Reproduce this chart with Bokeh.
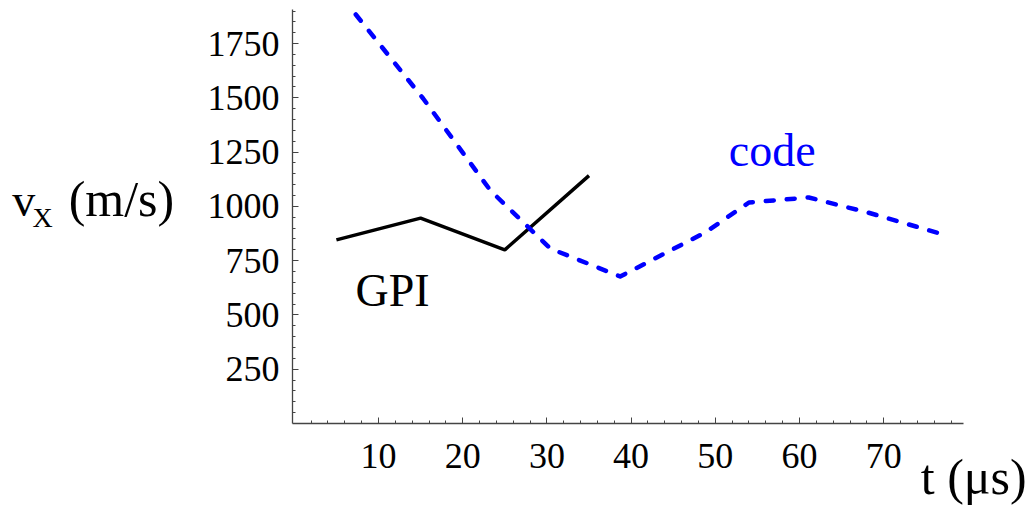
from bokeh.plotting import figure
from bokeh.models import Range1d, FixedTicker, Label, LinearAxis
from bokeh.embed import file_html
from bokeh.resources import INLINE

# GPI measurements
gpi_t = [5, 15, 25, 35]
gpi_v = [846, 946, 800, 1142]

# code simulation
code_t = [7.3, 15.3, 23.3, 30.4, 38.7, 48.8, 54.0, 61.1, 68.1, 77.3]
code_v = [1884, 1497, 1073, 806, 677, 880, 1018, 1041, 972, 868]

x_ticks = [10, 20, 30, 40, 50, 60, 70]
x_minor = list(range(2, 80, 2))
y_ticks = [250, 500, 750, 1000, 1250, 1500, 1750]
y_minor = list(range(50, 1901, 50))

FONT = "Liberation Serif"
XS, YS = 8.42, 0.2171  # px per unit
X0, Y0 = 293.8, 423.0  # pixel positions of t=0, v=0

p = figure(width=1027, height=508, output_backend="svg", toolbar_location=None,
           x_range=Range1d(-X0 / XS, (1027 - X0) / XS),
           y_range=Range1d(-(508 - Y0) / YS, Y0 / YS),
           x_axis_location=None, y_axis_location=None,
           min_border=0)
p.outline_line_color = None
p.xgrid.visible = False
p.ygrid.visible = False
p.background_fill_color = "white"
p.border_fill_color = "white"

xaxis = LinearAxis(fixed_location=0, bounds=(-0.2, 79.5))
yaxis = LinearAxis(fixed_location=-0.2, bounds=(0, 1907))
p.add_layout(xaxis, "below")
p.add_layout(yaxis, "left")

for ax, ticks, minor in ((xaxis, x_ticks, x_minor), (yaxis, y_ticks, y_minor)):
    ax.ticker = FixedTicker(ticks=ticks, minor_ticks=minor)
    ax.axis_line_color = "#444444"
    ax.axis_line_width = 1.3
    ax.major_tick_line_color = "#444444"
    ax.minor_tick_line_color = "#444444"
    ax.major_tick_in = 6
    ax.major_tick_out = 0
    ax.minor_tick_in = 3
    ax.minor_tick_out = 0
    ax.major_label_text_font = FONT
    ax.major_label_text_font_size = "36px"
    ax.major_label_text_color = "black"

xaxis.major_label_standoff = 20
yaxis.major_label_standoff = 13

p.line(gpi_t, gpi_v, line_color="black", line_width=3.5)
p.line(code_t, code_v, line_color="#0000ff", line_width=4.5, line_dash="8 13", line_cap="round", line_join="round")

def lab(x, y, text, size, color="black"):
    p.add_layout(Label(x=x, y=y, text=text, text_font=FONT, text_font_size=size,
                       text_color=color, text_baseline="alphabetic", text_align="left"))

lab(7.27, 612, "GPI", "46px")
lab(51.6, 1257, "code", "46px", "#0000ff")
lab(74.4, -246, "t (\u03bcs)", "50px")
lab(-33.5, 1027, "v", "46px")
lab(-31.1, 951, "X", "28px")
lab(-26.8, 1034, "(m/s)", "50px")

open("out.html", "w").write(file_html(p, INLINE))
